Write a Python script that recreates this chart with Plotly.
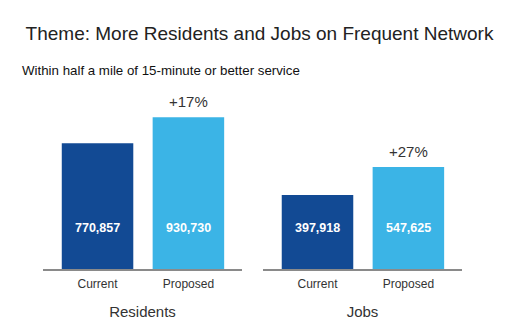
import plotly.graph_objects as go
from plotly.subplots import make_subplots

categories = ["Current", "Proposed"]
groups = ["Residents", "Jobs"]
residents = [770857, 930730]
jobs = [397918, 547625]
changes = ["+17%", "+27%"]

colors = ["#124a94", "#3bb4e6"]
FONT = "Liberation Sans, Arial, Helvetica, sans-serif"

fig = make_subplots(rows=1, cols=2, horizontal_spacing=0.05)

series = [residents, jobs]
for i, vals in enumerate(series):
    col = i + 1
    fig.add_trace(go.Bar(
        x=categories, y=vals, marker=dict(color=colors, line=dict(width=0)),
        showlegend=False, hoverinfo="x+y"), row=1, col=col)
    xref = "x" if col == 1 else "x2"
    yref = "y" if col == 1 else "y2"
    for c, v in zip(categories, vals):
        fig.add_annotation(x=c, y=0, xref=xref, yref=yref, text=f"<b>{v:,}</b>",
                           showarrow=False, yshift=41,
                           font=dict(family=FONT, size=12.5, color="white"))
    fig.add_annotation(x=categories[1], y=vals[1], xref=xref, yref=yref,
                       text=changes[i], showarrow=False, yanchor="bottom", yshift=5,
                       font=dict(family=FONT, size=15, color="#333333"))

yranges = [[0, 1035800], [0, 908000]]
for i in range(2):
    col = i + 1
    fig.update_xaxes(range=[-0.6, 1.59], showline=True, linecolor="#8a8a8a", linewidth=1.5,
                     ticks="", ticklabelstandoff=3,
                     tickfont=dict(family=FONT, size=12, color="#333333"),
                     title=dict(text=groups[i], font=dict(family=FONT, size=15, color="#333333"), standoff=16),
                     showgrid=False, zeroline=False, row=1, col=col)
    fig.update_yaxes(range=yranges[i], visible=False, showgrid=False, zeroline=False, row=1, col=col)

fig.update_layout(
    width=525, height=333,
    margin=dict(l=43, r=63, t=100, b=64),
    bargap=0.213,
    plot_bgcolor="white", paper_bgcolor="white",
    title=dict(text="Theme: More Residents and Jobs on Frequent Network",
               x=259.5 / 525, xref="container", xanchor="center", y=1 - 33 / 333, yanchor="middle",
               font=dict(family=FONT, size=19, color="#222222")),
)
fig.update_layout(xaxis=dict(domain=[0, 0.475]), xaxis2=dict(domain=[0.525, 1]))
fig.add_annotation(text="Within half a mile of 15-minute or better service",
                   xref="paper", yref="paper", x=-23 / 419, y=1 + 30 / 169,
                   xanchor="left", yanchor="middle", showarrow=False,
                   font=dict(family=FONT, size=13.3, color="#111111"))

fig.write_html("out.html")
